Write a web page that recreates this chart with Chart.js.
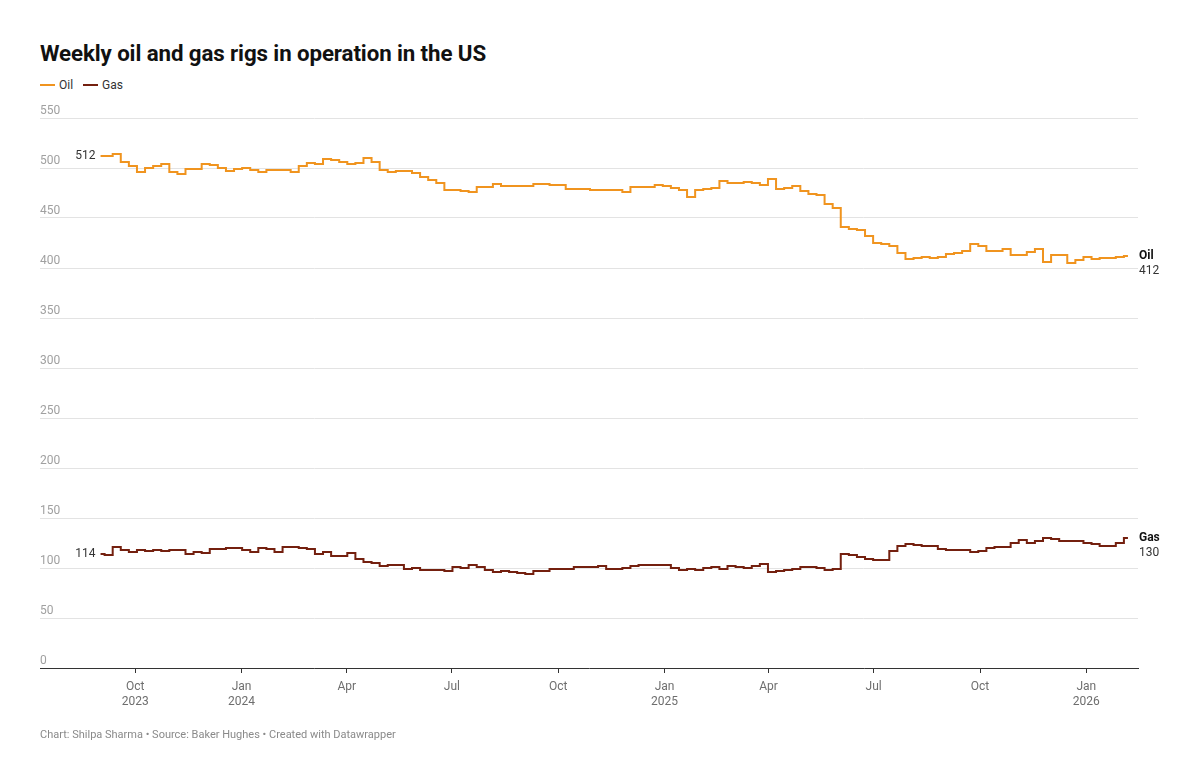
<!DOCTYPE html>
<html>
<head>
<meta charset="utf-8">
<script src="https://cdn.jsdelivr.net/npm/chart.js@4.4.1/dist/chart.umd.min.js"></script>
<style>
  html, body { margin: 0; padding: 0; background: #fff; }
  body { width: 1200px; height: 782px; position: relative; overflow: hidden; font-family: Roboto, "Noto Sans", sans-serif; }
  #title { position: absolute; left: 40px; top: 40px; font-size: 22.3px; font-weight: 700; color: #111; letter-spacing: -0.1px; }
  #legend { position: absolute; left: 40px; top: 78px; font-size: 12px; color: #333; }
  #legend span.sw { display: inline-block; width: 15px; height: 2px; vertical-align: middle; margin-right: 4px; position: relative; top: -1px; }
  #legend span.item { margin-right: 10px; }
  #footer { position: absolute; left: 40px; top: 728px; font-size: 11px; color: #8a8a8a; }
  #wrap { position: absolute; left: 0; top: 0; width: 1200px; height: 782px; }
</style>
</head>
<body>
<div id="title">Weekly oil and gas rigs in operation in the US</div>
<div id="legend"><span class="item"><span class="sw" style="background:#f0941f"></span>Oil</span><span class="item"><span class="sw" style="background:#74200f"></span>Gas</span></div>
<div id="wrap"><canvas id="myChart" width="1200" height="782"></canvas></div>
<div id="footer">Chart: Shilpa Sharma • Source: Baker Hughes • Created with Datawrapper</div>
<script>
'use strict';

// weekly counts, first week = Friday 1 Sep 2023
var startDate = '2023-09-01';
var oil = [512, 512, 514, 506, 502, 496, 500, 502, 504, 496, 494, 499, 499, 504, 503, 500, 497, 499, 500, 498,
  496, 498, 498, 498, 496, 502, 505, 504, 509, 508, 506, 504, 505, 510, 506, 498, 496, 497, 497, 495,
  491, 488, 485, 478, 478, 477, 476, 481, 481, 484, 482, 482, 482, 482, 484, 484, 483, 483, 479, 479,
  479, 478, 478, 478, 478, 476, 481, 481, 481, 483, 482, 480, 478, 471, 478, 479, 480, 487, 485, 485,
  486, 485, 483, 489, 479, 480, 482, 477, 474, 473, 464, 460, 441, 439, 438, 432, 425, 424, 422, 415,
  409, 410, 411, 410, 411, 414, 415, 417, 424, 422, 417, 417, 419, 413, 413, 416, 419, 406, 413, 413,
  405, 408, 411, 409, 410, 410, 411, 412];
var gas = [114, 113, 121, 118, 116, 118, 117, 118, 117, 118, 118, 114, 116, 115, 119, 119, 120, 120, 118, 116,
  120, 119, 116, 121, 121, 120, 119, 114, 116, 112, 112, 115, 109, 106, 105, 102, 103, 103, 99, 100,
  98, 98, 98, 97, 101, 100, 103, 101, 98, 96, 97, 96, 95, 94, 97, 97, 99, 99, 99, 101,
  101, 101, 102, 99, 99, 100, 102, 103, 103, 103, 103, 100, 98, 99, 98, 100, 101, 99, 102, 101,
  100, 102, 104, 96, 97, 98, 99, 101, 101, 100, 98, 99, 114, 113, 111, 109, 108, 108, 117, 122,
  124, 123, 122, 122, 119, 118, 118, 118, 116, 117, 120, 121, 121, 125, 128, 125, 127, 130, 129, 127,
  127, 127, 125, 124, 122, 122, 125, 130];

var tickDates = ['2023-10-01', '2024-01-01', '2024-04-01', '2024-07-01', '2024-10-01', '2025-01-01',
  '2025-04-01', '2025-07-01', '2025-10-01', '2026-01-01'];
var tickLabels = [['Oct', '2023'], ['Jan', '2024'], 'Apr', 'Jul', 'Oct', ['Jan', '2025'], 'Apr', 'Jul', 'Oct', ['Jan', '2026']];
var yTicks = [0, 50, 100, 150, 200, 250, 300, 350, 400, 450, 500, 550];

var DAY = 86400000;
var t0 = Date.parse(startDate);
function dayOf(s) { return (Date.parse(s) - t0) / DAY; }
var tickDays = tickDates.map(dayOf);

function toPoints(arr) {
  return arr.map(function (v, i) { return { x: i * 7, y: v }; });
}

// end / start labels like datawrapper
var lineLabels = {
  id: 'lineLabels',
  afterDatasetsDraw: function (chart) {
    var ctx = chart.ctx;
    var xs = chart.scales.x, ys = chart.scales.y;
    ctx.save();
    chart.data.datasets.forEach(function (ds) {
      var first = ds.data[0], last = ds.data[ds.data.length - 1];
      var fx = xs.getPixelForValue(first.x), fy = ys.getPixelForValue(first.y);
      var lx = xs.getPixelForValue(last.x), ly = ys.getPixelForValue(last.y);
      ctx.font = '12px Roboto, sans-serif';
      ctx.fillStyle = '#333';
      ctx.textAlign = 'right';
      ctx.textBaseline = 'middle';
      ctx.fillText(String(first.y), fx - 5, fy);
      ctx.textAlign = 'left';
      ctx.font = 'bold 12px Roboto, sans-serif';
      ctx.fillStyle = '#111';
      ctx.fillText(ds.label, lx + 11, ly);
      ctx.font = '12px Roboto, sans-serif';
      ctx.fillStyle = '#333';
      ctx.fillText(String(last.y), lx + 11, ly + 15);
    });
    ctx.restore();
  }
};

var ctx = document.getElementById('myChart');
var myChart = new Chart(ctx, {
  type: 'line',
  data: {
    datasets: [
      { label: 'Oil', data: toPoints(oil), borderColor: '#f0941f', borderWidth: 2, stepped: 'middle', pointRadius: 0 },
      { label: 'Gas', data: toPoints(gas), borderColor: '#74200f', borderWidth: 2, stepped: 'middle', pointRadius: 0 }
    ]
  },
  options: {
    responsive: false,
    animation: false,
    events: [],
    layout: { padding: { left: 40, right: 62, top: 118, bottom: 54 } },
    plugins: { legend: { display: false }, tooltip: { enabled: false } },
    scales: {
      x: {
        type: 'linear',
        min: -52.4,
        max: 897.7,
        afterBuildTicks: function (scale) {
          scale.ticks = tickDays.map(function (d) { return { value: d }; });
        },
        afterFit: function (scale) { scale.height = 60; },
        ticks: {
          autoSkip: false,
          maxRotation: 0,
          padding: 6,
          color: '#6e6e6e',
          font: { family: 'Roboto', size: 12, lineHeight: 1.3 },
          callback: function (value, index) { return tickLabels[index]; }
        },
        grid: { display: true, drawOnChartArea: false, drawTicks: true, tickLength: 5, color: '#333' },
        border: { display: true, color: '#333', width: 1 }
      },
      y: {
        min: 0,
        max: 550,
        afterBuildTicks: function (scale) {
          scale.ticks = yTicks.map(function (v) { return { value: v }; });
        },
        afterFit: function (scale) { scale.width = 0; },
        ticks: {
          mirror: true,
          padding: 0,
          labelOffset: -7,
          color: '#a0a0a0',
          font: { family: 'Roboto', size: 12 }
        },
        grid: {
          drawTicks: false,
          color: function (c) { return c.tick && c.tick.value === 0 ? 'rgba(0,0,0,0)' : '#e3e3e3'; }
        },
        border: { display: false }
      }
    }
  },
  plugins: [lineLabels]
});
</script>
</body>
</html>
